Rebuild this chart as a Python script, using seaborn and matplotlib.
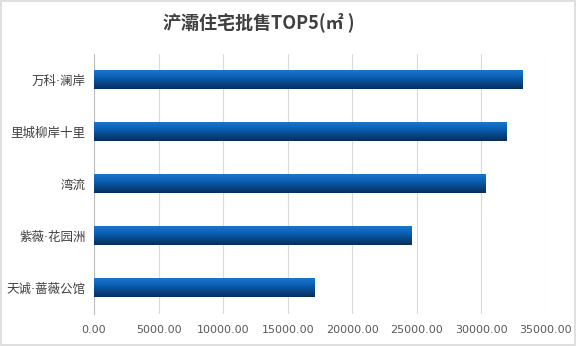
import matplotlib
matplotlib.use("Agg")
import matplotlib.pyplot as plt
import seaborn as sns
import numpy as np
import pandas as pd
from matplotlib.patches import Rectangle
from matplotlib.colors import LinearSegmentedColormap

projects = ["万科·澜岸", "里城柳岸十里", "湾流", "紫薇·花园洲", "天诚·蔷薇公馆"]
areas = [33200, 31950, 30350, 24550, 17050]
tick_values = [0, 5000, 10000, 15000, 20000, 25000, 30000, 35000]
title = "浐灞住宅批售TOP5(㎡ )"

sns.set_theme(style="white")
plt.rcParams['font.family'] = ['DejaVu Sans', 'Noto Sans CJK SC']

df = pd.DataFrame({"project": projects, "area": areas})

fig = plt.figure(figsize=(5.76, 3.46), dpi=100)
ax = fig.add_axes([94/576, 1-313.5/346, (546-94)/576, 260/346])

sns.barplot(data=df, y="project", x="area", orient="h", color="#0a64b4",
            width=0.36, ax=ax, zorder=3)

grad = np.linspace(0, 1, 64).reshape(-1, 1)
cmap = LinearSegmentedColormap.from_list("g", ["#1a75cc", "#0c63b8", "#08478a", "#062f5c"])
for p in ax.patches:
    x0, y0 = p.get_x(), p.get_y()
    w, h = p.get_width(), p.get_height()
    im = ax.imshow(grad, extent=[x0, x0 + w, y0 + h, y0], aspect="auto",
                   cmap=cmap, zorder=4, origin="upper")
    im.set_clip_path(p)
    p.set_edgecolor("none")

ax.set_xlim(0, 35000)
ax.set_ylim(len(projects) - 0.5, -0.5)
ax.set_xticks(tick_values)
ax.set_xticklabels([f"{v:.2f}" for v in tick_values], color="#595959", fontsize=8)
ax.tick_params(axis="x", length=0, pad=8)
ax.tick_params(axis="y", length=0, pad=6, labelsize=9, labelcolor="#404040")
ax.xaxis.grid(True, color="#d9d9d9", linewidth=0.8, zorder=0)
ax.set_axisbelow(True)
ax.set_xlabel("")
ax.set_ylabel("")
for s in ["top", "right", "bottom"]:
    ax.spines[s].set_visible(False)
ax.spines["left"].set_color("#bfbfbf")
ax.spines["left"].set_linewidth(0.8)

fig.text(259/576, 1 - 22/346, title, ha="center", va="center", fontsize=13,
         fontweight="bold", color="#404040",
         family=['Noto Sans CJK SC', 'DejaVu Sans'])

fig.patches.append(Rectangle((0.002, 0.003), 0.996, 0.994, transform=fig.transFigure,
                             fill=False, edgecolor="#d9d9d9", linewidth=1.2))

fig.savefig("out.png", dpi=100)
